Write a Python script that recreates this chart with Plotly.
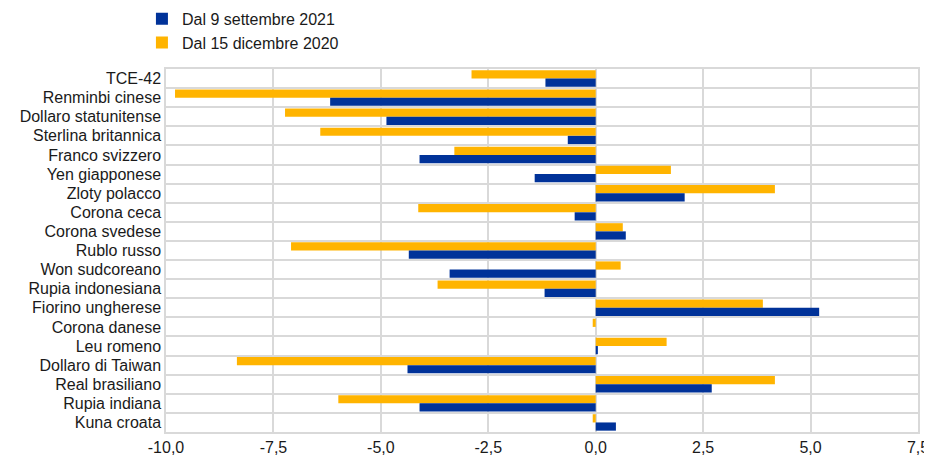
import plotly.graph_objects as go

categories = ["TCE-42", "Renminbi cinese", "Dollaro statunitense", "Sterlina britannica",
              "Franco svizzero", "Yen giapponese", "Zloty polacco", "Corona ceca",
              "Corona svedese", "Rublo russo", "Won sudcoreano", "Rupia indonesiana",
              "Fiorino ungherese", "Corona danese", "Leu romeno", "Dollaro di Taiwan",
              "Real brasiliano", "Rupia indiana", "Kuna croata"]

since_sep_2021 = [-1.17, -6.18, -4.87, -0.65, -4.10, -1.42, 2.07, -0.49, 0.70, -4.35,
                  -3.40, -1.19, 5.20, 0.0, 0.05, -4.38, 2.70, -4.10, 0.47]
since_dec_2020 = [-2.89, -9.79, -7.23, -6.41, -3.29, 1.75, 4.17, -4.13, 0.63, -7.09,
                  0.58, -3.68, 3.89, -0.07, 1.65, -8.35, 4.17, -5.99, -0.07]

name_blue = "Dal 9 settembre 2021"
name_yellow = "Dal 15 dicembre 2020"
tick_vals = [-10, -7.5, -5, -2.5, 0, 2.5, 5, 7.5]
tick_labels = ["-10,0", "-7,5", "-5,0", "-2,5", "0,0", "2,5", "5,0", "7,5"]

grid = "#d9d9d9"

fig = go.Figure()
fig.add_trace(go.Bar(y=categories, x=since_dec_2020, name=name_yellow, orientation="h",
                     marker=dict(color="#FFB400", line=dict(width=0)), legendrank=2))
fig.add_trace(go.Bar(y=categories, x=since_sep_2021, name=name_blue, orientation="h",
                     marker=dict(color="#003299", line=dict(width=0)), legendrank=1))

fig.update_layout(
    width=932, height=451,
    margin=dict(l=158, r=22, t=61, b=27, autoexpand=False),
    paper_bgcolor="white", plot_bgcolor="white",
    barmode="group", bargap=0.14, bargroupgap=0,
    font=dict(family="Liberation Sans, Arial, sans-serif", size=16, color="#1a1a1a"),
    showlegend=True,
    legend=dict(x=-0.032, y=1.185, xanchor="left", yanchor="top",
                font=dict(size=16, color="#1a1a1a"), bgcolor="rgba(0,0,0,0)",
                tracegroupgap=0, itemwidth=30),
    xaxis=dict(range=[-10, 7.5], tickvals=tick_vals, ticktext=tick_labels,
               showgrid=True, gridcolor=grid, gridwidth=1.5, zeroline=False,
               showline=True, mirror=True, linecolor=grid, linewidth=1.5,
               ticks="", tickfont=dict(size=16, color="#1a1a1a"),
               automargin=False),
    yaxis=dict(autorange="reversed", tickson="boundaries", showgrid=True,
               gridcolor=grid, gridwidth=1.5,
               showline=True, mirror=True, linecolor=grid, linewidth=1.5,
               ticks="", tickfont=dict(size=16, color="#1a1a1a"), automargin=False),
)

fig.write_html("out.html")
